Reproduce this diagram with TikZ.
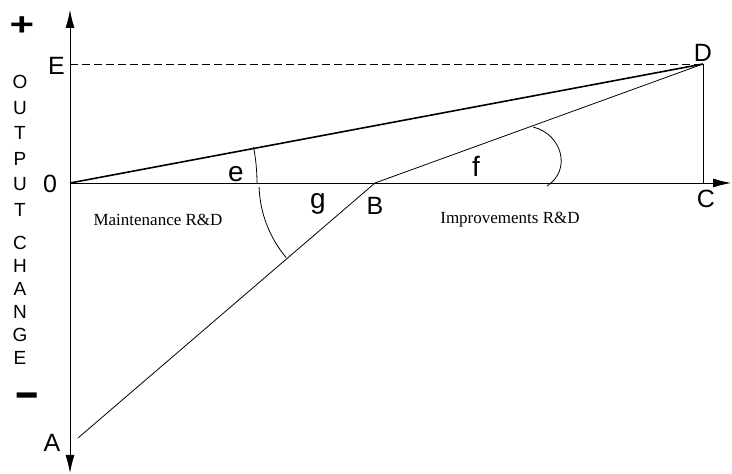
\documentclass[tikz,border=0pt]{standalone}
\usepackage{fontspec}
\setmainfont{Liberation Sans}
\newfontfamily\rdfont{Liberation Serif}
\usetikzlibrary{arrows.meta, positioning, calc}

\tikzset{
  axis/.style={line width=0.8pt},
  letter/.style={font=\fontsize{25}{25}\selectfont, inner sep=0pt, anchor=base},
  small letter/.style={font=\fontsize{28}{28}\selectfont, inner sep=0pt, anchor=base},
  vletter/.style={font=\fontsize{19}{19}\selectfont, inner sep=0pt},
  rdtext/.style={font=\rdfont\fontsize{17}{17}\selectfont, inner sep=0pt},
  sign/.style={font=\bfseries\fontsize{40}{40}\selectfont, inner sep=0pt},
}

\begin{document}
\begin{tikzpicture}[x=1pt, y=1pt, line width=0.8pt, >={Latex[length=18pt,width=9pt]}]
        \useasboundingbox (0,0) rectangle (732,474);

        % Axes
        \coordinate (O) at (70,291);
        \coordinate (top) at (70,464);
        \coordinate (bot) at (70,1);
        \coordinate (right) at (731,291);
        \draw[axis, <->] (bot) -- (top);
        \draw[axis, ->] (O) -- (right);

        % Points
        \coordinate (D) at (703,410);
        \coordinate (C) at (703,291);
        \coordinate (E) at (70,410);
        \coordinate (B) at (375,291);
        \coordinate (A) at (78,36);

        % Lines
        \draw[line width=1.6pt] (O) -- (D);
        \draw (A) -- (B);
        \draw (B) -- (D);
        \draw (D) -- (C);
        \draw[dash pattern=on 8pt off 4pt] (E) -- (D);

        % Angles
        \draw (O) ++(0:187pt) arc[start angle=0, end angle=11, radius=187pt];
        \draw (B) ++(182:116pt) arc[start angle=182, end angle=220, radius=116pt];
        \draw (533,347) .. controls (562,340) and (572,304) .. (547,288);

        % Labels
        \node[sign] (plus) at (22,448) {\scalebox{1.05}[0.8]{+}};
        \node[sign] (minus) at (27,72) {\scalebox{1}[1.2]{−}};
        \node[letter] (lE) at (56.5,399) {E};
        \node[letter] (l0) at (50,281) {0};
        \node[letter] (lA) at (52,22) {A};
        \node[letter] (lD) at (703,412) {D};
        \node[letter] (lC) at (706,266) {C};
        \node[letter] (lB) at (375,259) {B};
        \node[small letter] (le) at (236,292) {e};
        \node[small letter] (lf) at (476,297) {f};
        \node[small letter] (lg) at (318,265) {g};
        \node[rdtext] (maint) at (158,254) {Maintenance R\&D};
        \node[rdtext] (impr) at (510,254) {Improvements R\&D};

        % Vertical axis title
        \foreach \ch [count=\i] in {O,U,T,P,U,T}
            \node[vletter] (out\i) at (20,{392-25.6*(\i-1)}) {\ch};
        \foreach \ch [count=\i] in {C,H,A,N,G,E}
            \node[vletter] (chg\i) at (20,{231-23*(\i-1)}) {\ch};
    \end{tikzpicture}
\end{document}
